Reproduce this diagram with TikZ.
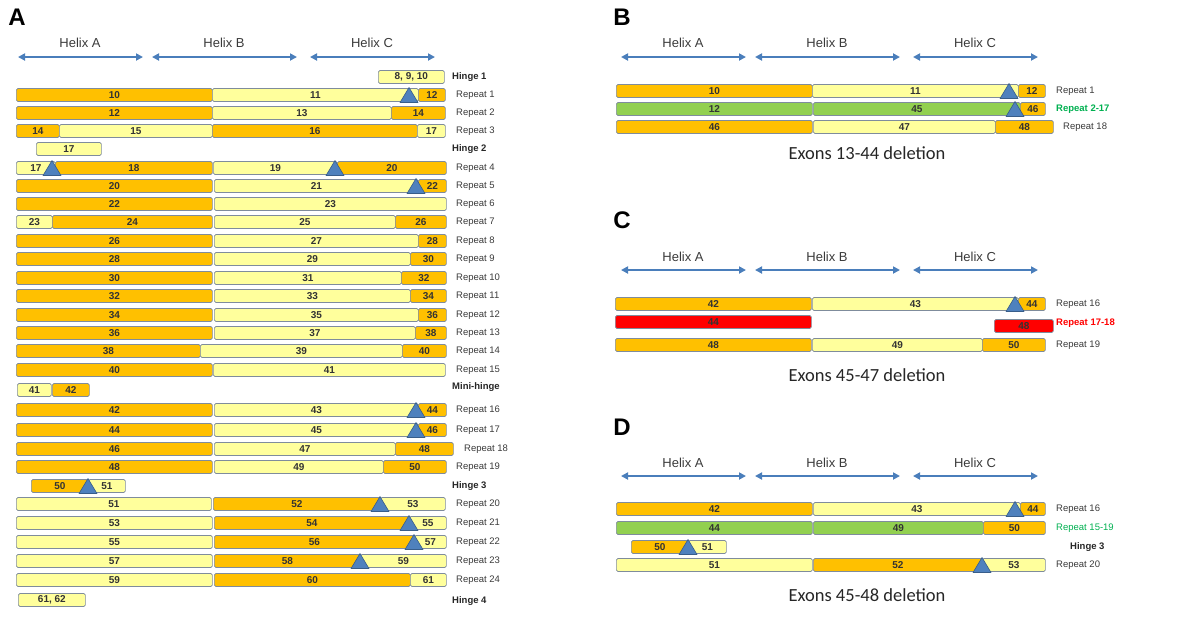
\documentclass[tikz,border=0pt]{standalone}
\usepackage{fontspec}
\setmainfont{Liberation Sans}
\newfontfamily\calfont{Carlito}
\usetikzlibrary{arrows.meta}

\definecolor{exorange}{HTML}{FFC000}
\definecolor{exyellow}{HTML}{FFFF9C}
\definecolor{exgreen}{HTML}{92D050}
\definecolor{exred}{HTML}{FF0000}
\definecolor{exline}{HTML}{7F8C9C}
\definecolor{sitefill}{HTML}{4F81BD}
\definecolor{siteline}{HTML}{385D8A}
\definecolor{helixblue}{HTML}{4A7EBB}
\definecolor{labgray}{HTML}{3A3A3A}
\definecolor{labgreen}{HTML}{00B050}

% one exon block: name, left x, right x, y, colour, text
\newcommand{\exon}[6]{%
  \node[exbox, fill=#5, minimum width={#3-#2}, anchor=west] (#1) at (#2,#4) {#6};}
% deletion / frame site
\newcommand{\cutsite}[2]{%
  \filldraw[site] (#1-9,#2+7.5) -- (#1,#2-7.5) -- (#1+9,#2+7.5) -- cycle;}
% helix labels and arrows: prefix, x0, label y, arrow y
\newcommand{\helices}[4]{%
  \node[helixlab] (#1-ha) at (#2+64,#3) {Helix A};
  \node[helixlab] (#1-hb) at (#2+208,#3) {Helix B};
  \node[helixlab] (#1-hc) at (#2+356,#3) {Helix C};
  \coordinate (#1-a1) at (#2+2,#4);   \coordinate (#1-a2) at (#2+127,#4);
  \coordinate (#1-b1) at (#2+136,#4); \coordinate (#1-b2) at (#2+281,#4);
  \coordinate (#1-c1) at (#2+294,#4); \coordinate (#1-c2) at (#2+419,#4);
  \draw[helixarrow] (#1-a1) -- (#1-a2);
  \draw[helixarrow] (#1-b1) -- (#1-b2);
  \draw[helixarrow] (#1-c1) -- (#1-c2);}

\begin{document}
\begin{tikzpicture}[
    x=1pt, y=-1pt,
    exbox/.style={draw=exline, line width=0.7pt, rounded corners=1.5pt, minimum height=13pt,
      inner sep=0pt, font=\fontsize{10}{10}\selectfont\bfseries, text=black!80},
    site/.style={fill=sitefill, draw=siteline, line width=0.6pt, line join=round},
    rowlab/.style={anchor=west, font=\fontsize{9.5}{10}\selectfont, text=labgray, inner sep=0pt},
    hingelab/.style={anchor=west, font=\fontsize{9.5}{10}\selectfont\bfseries, text=black!85, inner sep=0pt},
    helixlab/.style={font=\fontsize{13}{13}\selectfont, text=labgray},
    helixarrow/.style={{Triangle[length=7pt,width=7pt]}-{Triangle[length=7pt,width=7pt]}, line width=1.8pt, draw=helixblue},
    panel/.style={font=\fontsize{24}{24}\selectfont\bfseries},
    caption/.style={font=\calfont\fontsize{18.5}{19}\selectfont, text=black!85}
]
    \useasboundingbox (0,0) rectangle (1200,625);

    % ---------------- panel A ----------------
    \node[panel] (pa) at (17,17) {A};
    \helices{a}{16}{43}{57}

    \exon{a-h1}{378}{444}{77}{exyellow}{8, 9, 10}
    \node[hingelab] (a-lh1) at (452,77) {Hinge 1};

    \exon{a-r1a}{16}{212}{95}{exorange}{10}
    \exon{a-r1b}{212}{418}{95}{exyellow}{11}
    \exon{a-r1c}{418}{445}{95}{exorange}{12}
    \cutsite{409}{95}
    \node[rowlab] (a-l1) at (456,95) {Repeat 1};

    \exon{a-r2a}{16}{212}{113}{exorange}{12}
    \exon{a-r2b}{212}{391}{113}{exyellow}{13}
    \exon{a-r2c}{391}{445}{113}{exorange}{14}
    \node[rowlab] (a-l2) at (456,113) {Repeat 2};

    \exon{a-r3a}{16}{59}{131}{exorange}{14}
    \exon{a-r3b}{59}{212}{131}{exyellow}{15}
    \exon{a-r3c}{212}{417}{131}{exorange}{16}
    \exon{a-r3d}{417}{445}{131}{exyellow}{17}
    \node[rowlab] (a-l3) at (456,131) {Repeat 3};

    \exon{a-h2}{36}{101}{149}{exyellow}{17}
    \node[hingelab] (a-lh2) at (452,149) {Hinge 2};

    \exon{a-r4a}{16}{55}{168}{exyellow}{17}
    \exon{a-r4b}{55}{212}{168}{exorange}{18}
    \exon{a-r4c}{213}{337}{168}{exyellow}{19}
    \exon{a-r4d}{337}{446}{168}{exorange}{20}
    \cutsite{52}{168}
    \cutsite{335}{168}
    \node[rowlab] (a-l4) at (456,168) {Repeat 4};

    \exon{a-r5a}{16}{212}{186}{exorange}{20}
    \exon{a-r5b}{214}{418}{186}{exyellow}{21}
    \exon{a-r5c}{418}{446}{186}{exorange}{22}
    \cutsite{416}{186}
    \node[rowlab] (a-l5) at (456,186) {Repeat 5};

    \exon{a-r6a}{16}{212}{204}{exorange}{22}
    \exon{a-r6b}{214}{446}{204}{exyellow}{23}
    \node[rowlab] (a-l6) at (456,204) {Repeat 6};

    \exon{a-r7a}{16}{52}{222}{exyellow}{23}
    \exon{a-r7b}{52}{212}{222}{exorange}{24}
    \exon{a-r7c}{214}{395}{222}{exyellow}{25}
    \exon{a-r7d}{395}{446}{222}{exorange}{26}
    \node[rowlab] (a-l7) at (456,222) {Repeat 7};

    \exon{a-r8a}{16}{212}{241}{exorange}{26}
    \exon{a-r8b}{214}{418}{241}{exyellow}{27}
    \exon{a-r8c}{418}{446}{241}{exorange}{28}
    \node[rowlab] (a-l8) at (456,241) {Repeat 8};

    \exon{a-r9a}{16}{212}{259}{exorange}{28}
    \exon{a-r9b}{214}{410}{259}{exyellow}{29}
    \exon{a-r9c}{410}{446}{259}{exorange}{30}
    \node[rowlab] (a-l9) at (456,259) {Repeat 9};

    \exon{a-r10a}{16}{212}{278}{exorange}{30}
    \exon{a-r10b}{214}{401}{278}{exyellow}{31}
    \exon{a-r10c}{401}{446}{278}{exorange}{32}
    \node[rowlab] (a-l10) at (456,278) {Repeat 10};

    \exon{a-r11a}{16}{212}{296}{exorange}{32}
    \exon{a-r11b}{214}{410}{296}{exyellow}{33}
    \exon{a-r11c}{410}{446}{296}{exorange}{34}
    \node[rowlab] (a-l11) at (456,296) {Repeat 11};

    \exon{a-r12a}{16}{212}{315}{exorange}{34}
    \exon{a-r12b}{214}{418}{315}{exyellow}{35}
    \exon{a-r12c}{418}{446}{315}{exorange}{36}
    \node[rowlab] (a-l12) at (456,315) {Repeat 12};

    \exon{a-r13a}{16}{212}{333}{exorange}{36}
    \exon{a-r13b}{214}{415}{333}{exyellow}{37}
    \exon{a-r13c}{415}{446}{333}{exorange}{38}
    \node[rowlab] (a-l13) at (456,333) {Repeat 13};

    \exon{a-r14a}{16}{200}{351}{exorange}{38}
    \exon{a-r14b}{200}{402}{351}{exyellow}{39}
    \exon{a-r14c}{402}{446}{351}{exorange}{40}
    \node[rowlab] (a-l14) at (456,351) {Repeat 14};

    \exon{a-r15a}{16}{212}{370}{exorange}{40}
    \exon{a-r15b}{213}{445}{370}{exyellow}{41}
    \node[rowlab] (a-l15) at (456,370) {Repeat 15};

    \exon{a-mha}{17}{51}{390}{exyellow}{41}
    \exon{a-mhb}{52}{89}{390}{exorange}{42}
    \node[hingelab] (a-lmh) at (452,387) {Mini-hinge};

    \exon{a-r16a}{16}{212}{410}{exorange}{42}
    \exon{a-r16b}{214}{418}{410}{exyellow}{43}
    \exon{a-r16c}{418}{446}{410}{exorange}{44}
    \cutsite{416}{410}
    \node[rowlab] (a-l16) at (456,410) {Repeat 16};

    \exon{a-r17a}{16}{212}{430}{exorange}{44}
    \exon{a-r17b}{214}{418}{430}{exyellow}{45}
    \exon{a-r17c}{418}{446}{430}{exorange}{46}
    \cutsite{416}{430}
    \node[rowlab] (a-l17) at (456,430) {Repeat 17};

    \exon{a-r18a}{16}{212}{449}{exorange}{46}
    \exon{a-r18b}{214}{395}{449}{exyellow}{47}
    \exon{a-r18c}{395}{453}{449}{exorange}{48}
    \node[rowlab] (a-l18) at (464,449) {Repeat 18};

    \exon{a-r19a}{16}{212}{467}{exorange}{48}
    \exon{a-r19b}{214}{383}{467}{exyellow}{49}
    \exon{a-r19c}{383}{446}{467}{exorange}{50}
    \node[rowlab] (a-l19) at (456,467) {Repeat 19};

    \exon{a-h3a}{31}{88}{486}{exorange}{50}
    \exon{a-h3b}{88}{125}{486}{exyellow}{51}
    \cutsite{88}{486}
    \node[hingelab] (a-lh3) at (452,486) {Hinge 3};

    \exon{a-r20a}{16}{211}{504}{exyellow}{51}
    \exon{a-r20b}{213}{380}{504}{exorange}{52}
    \exon{a-r20c}{380}{445}{504}{exyellow}{53}
    \cutsite{380}{504}
    \node[rowlab] (a-l20) at (456,504) {Repeat 20};

    \exon{a-r21a}{16}{212}{523}{exyellow}{53}
    \exon{a-r21b}{214}{409}{523}{exorange}{54}
    \exon{a-r21c}{409}{446}{523}{exyellow}{55}
    \cutsite{409}{523}
    \node[rowlab] (a-l21) at (456,523) {Repeat 21};

    \exon{a-r22a}{16}{212}{542}{exyellow}{55}
    \exon{a-r22b}{214}{414}{542}{exorange}{56}
    \exon{a-r22c}{414}{446}{542}{exyellow}{57}
    \cutsite{414}{542}
    \node[rowlab] (a-l22) at (456,542) {Repeat 22};

    \exon{a-r23a}{16}{212}{561}{exyellow}{57}
    \exon{a-r23b}{214}{360}{561}{exorange}{58}
    \exon{a-r23c}{360}{446}{561}{exyellow}{59}
    \cutsite{360}{561}
    \node[rowlab] (a-l23) at (456,561) {Repeat 23};

    \exon{a-r24a}{16}{212}{580}{exyellow}{59}
    \exon{a-r24b}{214}{410}{580}{exorange}{60}
    \exon{a-r24c}{410}{446}{580}{exyellow}{61}
    \node[rowlab] (a-l24) at (456,580) {Repeat 24};

    \exon{a-h4}{18}{85}{600}{exyellow}{61, 62}
    \node[hingelab] (a-lh4) at (452,601) {Hinge 4};

    % ---------------- panel B ----------------
    \begin{scope}[xshift=600pt]
        \node[panel] (pb) at (22,17) {B};
        \helices{b}{19}{43}{57}

        \exon{b-r1a}{16}{212}{91}{exorange}{10}
        \exon{b-r1b}{212}{418}{91}{exyellow}{11}
        \exon{b-r1c}{418}{445}{91}{exorange}{12}
        \cutsite{409}{91}
        \node[rowlab] (b-l1) at (456,91) {Repeat 1};

        \exon{b-r2a}{16}{212}{109}{exgreen}{12}
        \exon{b-r2b}{213}{420}{109}{exgreen}{45}
        \exon{b-r2c}{420}{445}{109}{exorange}{46}
        \cutsite{415}{109}
        \node[rowlab, text=labgreen, font=\fontsize{9.5}{10}\selectfont\bfseries] (b-l2) at (456,109) {Repeat 2-17};

        \exon{b-r18a}{16}{212}{127}{exorange}{46}
        \exon{b-r18b}{213}{395}{127}{exyellow}{47}
        \exon{b-r18c}{395}{453}{127}{exorange}{48}
        \node[rowlab] (b-l18) at (463,127) {Repeat 18};

        \node[caption] (b-cap) at (267,153) {Exons 13-44 deletion};
    \end{scope}

    % ---------------- panel C ----------------
    \begin{scope}[xshift=600pt]
        \node[panel] (pc) at (22,220) {C};
        \helices{c}{19}{257}{270}

        \exon{c-r16a}{15}{211}{304}{exorange}{42}
        \exon{c-r16b}{212}{418}{304}{exyellow}{43}
        \exon{c-r16c}{418}{445}{304}{exorange}{44}
        \cutsite{415}{304}
        \node[rowlab] (c-l16) at (456,304) {Repeat 16};

        \exon{c-r17a}{15}{211}{322}{exred}{44}
        \exon{c-r17b}{394}{453}{326}{exred}{48}
        \node[rowlab, text=exred, font=\fontsize{9.5}{10}\selectfont\bfseries] (c-l17) at (456,323) {Repeat 17-18};

        \exon{c-r19a}{15}{211}{345}{exorange}{48}
        \exon{c-r19b}{212}{382}{345}{exyellow}{49}
        \exon{c-r19c}{382}{445}{345}{exorange}{50}
        \node[rowlab] (c-l19) at (456,345) {Repeat 19};

        \node[caption] (c-cap) at (267,375) {Exons 45-47 deletion};
    \end{scope}

    % ---------------- panel D ----------------
    \begin{scope}[xshift=600pt]
        \node[panel] (pd) at (22,427) {D};
        \helices{d}{19}{463}{476}

        \exon{d-r16a}{16}{212}{509}{exorange}{42}
        \exon{d-r16b}{213}{420}{509}{exyellow}{43}
        \exon{d-r16c}{420}{445}{509}{exorange}{44}
        \cutsite{415}{509}
        \node[rowlab] (d-l16) at (456,509) {Repeat 16};

        \exon{d-r15a}{16}{212}{528}{exgreen}{44}
        \exon{d-r15b}{213}{383}{528}{exgreen}{49}
        \exon{d-r15c}{383}{445}{528}{exorange}{50}
        \node[rowlab, text=labgreen] (d-l15) at (456,528) {Repeat 15-19};

        \exon{d-h3a}{31}{88}{547}{exorange}{50}
        \exon{d-h3b}{88}{126}{547}{exyellow}{51}
        \cutsite{88}{547}
        \node[hingelab] (d-lh3) at (470,547) {Hinge 3};

        \exon{d-r20a}{16}{212}{565}{exyellow}{51}
        \exon{d-r20b}{213}{382}{565}{exorange}{52}
        \exon{d-r20c}{382}{445}{565}{exyellow}{53}
        \cutsite{382}{565}
        \node[rowlab] (d-l20) at (456,565) {Repeat 20};

        \node[caption] (d-cap) at (267,595) {Exons 45-48 deletion};
    \end{scope}
\end{tikzpicture}
\end{document}
